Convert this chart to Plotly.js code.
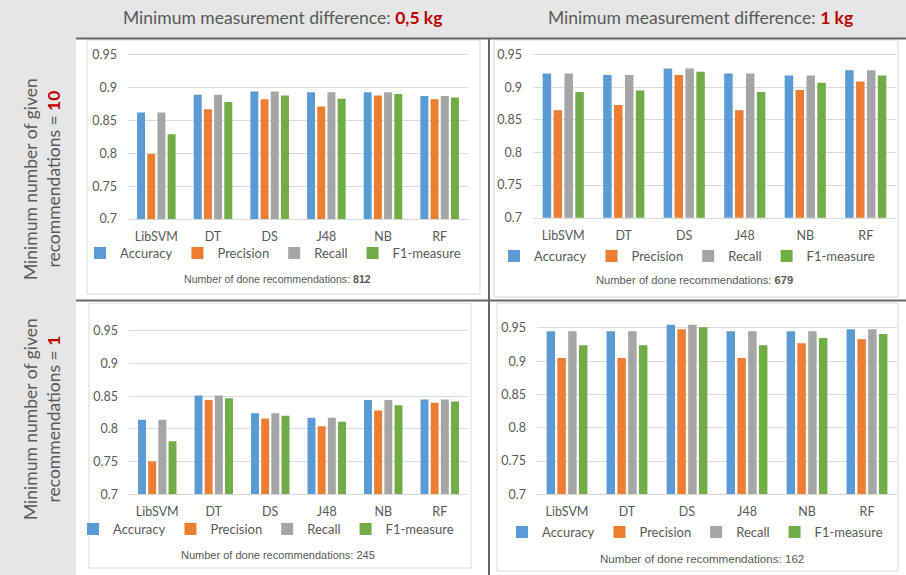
<!DOCTYPE html>
<html>
<head>
<meta charset="utf-8">
<script src="https://cdn.plot.ly/plotly-3.0.1.min.js"></script>
<style>html,body{margin:0;padding:0;background:#fff;}#chart{width:906px;height:575px;}</style>
</head>
<body>
<div id="chart"></div>
<script>
// ---- data ----
var categories = ['LibSVM', 'DT', 'DS', 'J48', 'NB', 'RF'];
var seriesNames = ['Accuracy', 'Precision', 'Recall', 'F1-measure'];
var yTickVals = [0.7, 0.75, 0.8, 0.85, 0.9, 0.95];
var yTickText = ['0.7', '0.75', '0.8', '0.85', '0.9', '0.95'];

// min. difference 0,5 kg, min. recommendations 10
var acc_05_10  = [0.862, 0.889, 0.894, 0.893, 0.893, 0.887];
var prec_05_10 = [0.799, 0.867, 0.882, 0.871, 0.888, 0.882];
var rec_05_10  = [0.862, 0.889, 0.894, 0.893, 0.893, 0.887];
var f1_05_10   = [0.829, 0.878, 0.888, 0.883, 0.890, 0.885];
// min. difference 1 kg, min. recommendations 10
var acc_1_10  = [0.921, 0.919, 0.929, 0.921, 0.918, 0.926];
var prec_1_10 = [0.865, 0.873, 0.919, 0.865, 0.896, 0.909];
var rec_1_10  = [0.921, 0.919, 0.929, 0.921, 0.918, 0.926];
var f1_1_10   = [0.893, 0.895, 0.924, 0.893, 0.907, 0.918];
// min. difference 0,5 kg, min. recommendations 1
var acc_05_1  = [0.814, 0.851, 0.824, 0.817, 0.844, 0.845];
var prec_05_1 = [0.750, 0.844, 0.816, 0.804, 0.828, 0.840];
var rec_05_1  = [0.814, 0.851, 0.824, 0.817, 0.844, 0.845];
var f1_05_1   = [0.781, 0.847, 0.820, 0.811, 0.836, 0.842];
// min. difference 1 kg, min. recommendations 1
var acc_1_1  = [0.945, 0.945, 0.955, 0.945, 0.945, 0.948];
var prec_1_1 = [0.905, 0.905, 0.948, 0.905, 0.927, 0.933];
var rec_1_1  = [0.945, 0.945, 0.955, 0.945, 0.945, 0.948];
var f1_1_1   = [0.924, 0.924, 0.951, 0.924, 0.935, 0.941];

var doneRecs = ['812', '679', '245', '162'];
var headerValues = ['0,5 kg', '1 kg'];
var rowValues = ['10', '1'];

// ---- build ----
var W = 906, H = 575;
function px(x) { return x / W; }
function py(y) { return 1 - y / H; }

var colors = ['#5b9bd5', '#ed7d31', '#a5a5a5', '#70ad47'];
var panels = [
  { s: [acc_05_10, prec_05_10, rec_05_10, f1_05_10], x: [128, 468], y: [48.1, 219], leg: [80, 253], note: [277, 279], bold: true, nf: 10.6 },
  { s: [acc_1_10, prec_1_10, rec_1_10, f1_1_10], x: [533, 896], y: [48.2, 217.7], leg: [494, 256], note: [694, 280], bold: true, nf: 11.2 },
  { s: [acc_05_1, prec_05_1, rec_05_1, f1_05_1], x: [129, 468], y: [324.2, 494.3], leg: [73, 529], note: [278, 555], bold: false, nf: 11 },
  { s: [acc_1_1, prec_1_1, rec_1_1, f1_1_1], x: [537, 897], y: [321.3, 494.3], leg: [502, 532], note: [702, 558], bold: false, nf: 11.6 }
];

var tickFont = { family: 'Lato, sans-serif', size: 12.5, color: '#595959' };
var data = [];
var layout = {
  width: W, height: H,
  margin: { l: 0, r: 0, t: 0, b: 0, autoexpand: false },
  paper_bgcolor: '#ffffff', plot_bgcolor: 'rgba(0,0,0,0)',
  barmode: 'group', bargap: 0.28, bargroupgap: 0.22,
  showlegend: true,
  font: { family: 'Lato, sans-serif', color: '#595959' },
  shapes: [], annotations: []
};

panels.forEach(function (p, i) {
  var n = i === 0 ? '' : String(i + 1);
  var legName = 'legend' + n;
  p.s.forEach(function (vals, k) {
    data.push({
      type: 'bar', x: categories, y: vals, name: seriesNames[k],
      xaxis: 'x' + n, yaxis: 'y' + n, legend: legName,
      marker: { color: colors[k] }, hoverinfo: 'x+y+name'
    });
  });
  layout['xaxis' + n] = {
    domain: [px(p.x[0]), px(p.x[1])], anchor: 'y' + n,
    showgrid: false, showline: true, linecolor: '#d9d9d9', linewidth: 1,
    ticks: '', tickfont: tickFont, ticklabelstandoff: 6, fixedrange: true
  };
  layout['yaxis' + n] = {
    domain: [py(p.y[1]), py(p.y[0])], anchor: 'x' + n,
    range: [0.7, 0.96], tickvals: yTickVals, ticktext: yTickText,
    showgrid: true, gridcolor: '#d9d9d9', gridwidth: 1, zeroline: false,
    showline: false, ticks: '', tickfont: tickFont, ticklabelstandoff: 10, fixedrange: true
  };
  layout[legName] = {
    orientation: 'h', x: px(p.leg[0]), y: py(p.leg[1]), xanchor: 'left', yanchor: 'middle',
    xref: 'paper', yref: 'paper', itemwidth: 30,
    bgcolor: 'rgba(0,0,0,0)', font: { family: 'Lato, sans-serif', size: 13, color: '#595959' },
    itemclick: false, itemdoubleclick: false
  };
  var num = p.bold ? '<b>' + doneRecs[i] + '</b>' : doneRecs[i];
  layout.annotations.push({
    xref: 'paper', yref: 'paper', x: px(p.note[0]), y: py(p.note[1]),
    xanchor: 'center', yanchor: 'middle', showarrow: false,
    text: 'Number of done recommendations: ' + num,
    font: { family: 'Liberation Sans, Arial, sans-serif', size: p.nf, color: '#595959' }
  });
});

// background & frames
var S = layout.shapes;
function rect(x0, y0, x1, y1, fill, line, lw) {
  S.push({ type: 'rect', xref: 'paper', yref: 'paper', layer: 'below',
    x0: px(x0), x1: px(x1), y0: py(y1), y1: py(y0),
    fillcolor: fill, line: { color: line || 'rgba(0,0,0,0)', width: lw || 0 } });
}
function line(x0, y0, x1, y1, c, w) {
  S.push({ type: 'line', xref: 'paper', yref: 'paper', layer: 'above',
    x0: px(x0), x1: px(x1), y0: py(y0), y1: py(y1), line: { color: c, width: w } });
}
rect(0, 0, 906, 38, '#e6e6e6');
rect(0, 38, 76, 575, '#e6e6e6');
rect(87, 40, 480, 294, 'rgba(0,0,0,0)', '#d9d9d9', 1);
rect(494, 40, 898, 297, 'rgba(0,0,0,0)', '#d9d9d9', 1);
rect(89, 303, 471, 568, 'rgba(0,0,0,0)', '#d9d9d9', 1);
rect(497, 303, 898, 571, 'rgba(0,0,0,0)', '#d9d9d9', 1);
line(76, 38.5, 906, 38.5, '#666666', 2);
line(489, 38, 489, 575, '#666666', 2);
line(76, 300.5, 906, 300.5, '#666666', 2);

var red = function (t) { return '<span style="color:#c00000"><b>' + t + '</b></span>'; };
var hdrFont = { family: 'Lato, sans-serif', size: 17.5, color: '#595959' };
layout.annotations.push(
  { xref: 'paper', yref: 'paper', x: px(282), y: py(17), xanchor: 'center', yanchor: 'middle', showarrow: false,
    text: 'Minimum measurement difference: ' + red(headerValues[0]), font: hdrFont },
  { xref: 'paper', yref: 'paper', x: px(700), y: py(17), xanchor: 'center', yanchor: 'middle', showarrow: false,
    text: 'Minimum measurement difference: ' + red(headerValues[1]), font: hdrFont },
  { xref: 'paper', yref: 'paper', x: px(42), y: py(179), xanchor: 'center', yanchor: 'middle', showarrow: false,
    textangle: -90, text: 'Minimum number of given<br>recommendations = ' + red(rowValues[0]), font: hdrFont },
  { xref: 'paper', yref: 'paper', x: px(42), y: py(419), xanchor: 'center', yanchor: 'middle', showarrow: false,
    textangle: -90, text: 'Minimum number of given<br>recommendations = ' + red(rowValues[1]), font: hdrFont }
);

Plotly.newPlot('chart', data, layout, { displayModeBar: false, responsive: false });
</script>
</body>
</html>
